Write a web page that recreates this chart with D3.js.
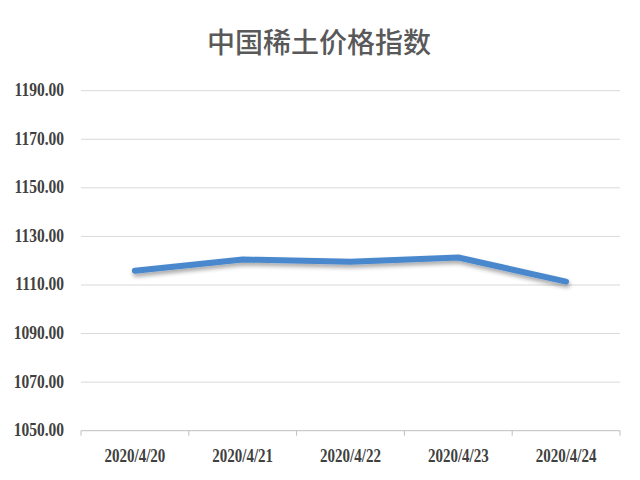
<!DOCTYPE html>
<html><head><meta charset="utf-8">
<script src="https://cdn.jsdelivr.net/npm/d3@7"></script>
<style>body{margin:0;background:#fff}</style>
</head><body>
<svg id="chart" width="640" height="480"></svg>
<script>
const title = "中国稀土价格指数";
const categories = ["2020/4/20","2020/4/21","2020/4/22","2020/4/23","2020/4/24"];
const values = [1115.9, 1120.5, 1119.6, 1121.3, 1111.4];
const yTicks = [1050,1070,1090,1110,1130,1150,1170,1190];

const svg = d3.select("#chart");
const m = {left:81, right:620, top:90.7, bottom:430.7};
const x = d3.scaleBand().domain(categories).range([m.left, m.right]);
const y = d3.scaleLinear().domain([1050,1190]).range([m.bottom, m.top]);

const defs = svg.append("defs");
const f = defs.append("filter").attr("id","sh").attr("x","-10%").attr("y","-50%").attr("width","120%").attr("height","300%");
f.append("feDropShadow").attr("dx",1).attr("dy",3).attr("stdDeviation",2).attr("flood-color","#000").attr("flood-opacity",0.35);

svg.append("text").attr("x",319).attr("y",53).attr("text-anchor","middle")
  .attr("font-family","Noto Sans CJK SC").attr("font-weight",500).attr("font-size",28).attr("fill","#595959").text(title);

// grid
svg.append("g").selectAll("line").data(yTicks.slice(1)).join("line")
  .attr("x1",m.left).attr("x2",m.right).attr("y1",d=>y(d)).attr("y2",d=>y(d))
  .attr("stroke","#d9d9d9").attr("stroke-width",1);

// y labels
svg.append("g").selectAll("text").data(yTicks).join("text")
  .attr("text-anchor","end")
  .attr("transform",d=>`translate(64,${y(d)+5.5}) scale(1,1.25)`)
  .attr("font-family","Liberation Serif").attr("font-weight","bold").attr("font-size",15.5)
  .attr("fill","#404040").text(d=>d.toFixed(2));

// x axis
const xa = svg.append("g").attr("transform",`translate(0,${m.bottom})`);
xa.append("line").attr("x1",m.left).attr("x2",m.right).attr("stroke","#bfbfbf");
xa.selectAll(".tk").data(d3.range(categories.length+1)).join("line").attr("class","tk")
  .attr("x1",i=>m.left+i*x.step()).attr("x2",i=>m.left+i*x.step()).attr("y1",0).attr("y2",5).attr("stroke","#bfbfbf");
xa.selectAll("text").data(categories).join("text")
  .attr("text-anchor","middle")
  .attr("transform",d=>`translate(${x(d)+x.bandwidth()/2},31) scale(1,1.25)`)
  .attr("font-family","Liberation Serif").attr("font-weight","bold").attr("font-size",15)
  .attr("fill","#404040").text(d=>d);

// line
const line = d3.line().x((d,i)=>x(categories[i])+x.bandwidth()/2).y(d=>y(d));
svg.append("path").datum(values).attr("d",line).attr("fill","none")
  .attr("stroke","#4a88cc").attr("stroke-width",6).attr("stroke-linecap","round").attr("stroke-linejoin","round")
  .attr("filter","url(#sh)");
</script>
</body></html>
